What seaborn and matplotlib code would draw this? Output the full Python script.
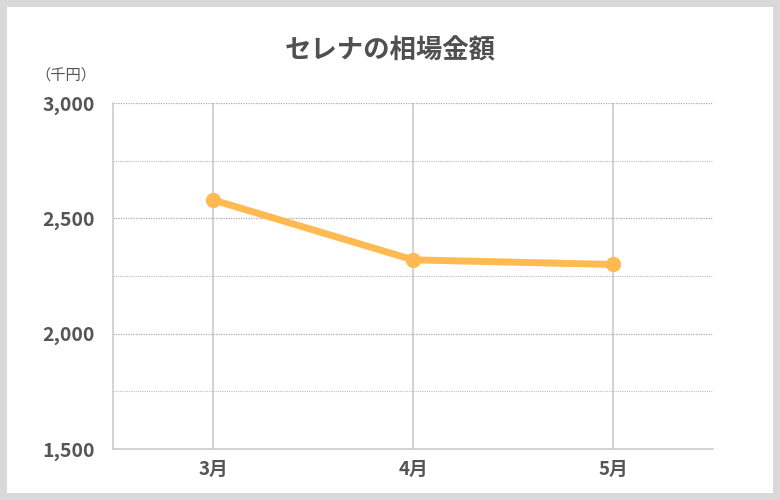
import pandas as pd
import matplotlib.pyplot as plt
import seaborn as sns
from matplotlib.patches import Rectangle
from matplotlib.ticker import MultipleLocator, FuncFormatter

# data
months = ['3月', '4月', '5月']
prices = [2580, 2320, 2300]

df = pd.DataFrame({'month': months, 'price': prices})

sns.set_style('white')
plt.rcParams['font.family'] = ['Noto Sans CJK JP', 'DejaVu Sans']

fig = plt.figure(figsize=(7.8, 5), dpi=100)
fig.patch.set_facecolor('#d9d9d9')
# white card inside the grey frame
fig.patches.append(Rectangle((7 / 780, 7 / 500), 766 / 780, 486 / 500,
                             transform=fig.transFigure, facecolor='white',
                             edgecolor='none', zorder=-5))

ax = fig.add_axes([113 / 780, 1 - 449 / 500, 600 / 780, 346 / 500])
ax.set_zorder(2)
ax.set_facecolor('white')

sns.lineplot(data=df, x='month', y='price', ax=ax, color='#FFBA52',
             linewidth=5, marker='o', markersize=11, markeredgewidth=0,
             zorder=3)

ax.set_xlim(-0.5, 2.5)
ax.set_ylim(1500, 3000)
ax.yaxis.set_major_locator(MultipleLocator(500))
ax.yaxis.set_minor_locator(MultipleLocator(250))
ax.yaxis.set_major_formatter(FuncFormatter(lambda v, p: f'{int(v):,}'))

ax.grid(axis='y', which='major', color='#aaaaaa', linestyle=(0, (1, 1)), linewidth=0.9)
ax.grid(axis='y', which='minor', color='#bbbbbb', linestyle=(0, (1, 1)), linewidth=0.8)
ax.grid(axis='x', which='major', color='#cccccc', linestyle='-', linewidth=1.2)
ax.set_axisbelow(True)

for s in ['top', 'right']:
    ax.spines[s].set_visible(False)
ax.spines['left'].set_color('#cccccc')
ax.spines['left'].set_linewidth(1.2)
ax.spines['bottom'].set_color('#cccccc')
ax.spines['bottom'].set_linewidth(1.2)

ax.tick_params(axis='both', which='both', length=0, colors='#555555')
ax.tick_params(axis='y', pad=13)
ax.tick_params(axis='x', pad=8)
for lab in ax.get_yticklabels():
    lab.set_fontsize(14)
    lab.set_fontweight('bold')
for lab in ax.get_xticklabels():
    lab.set_fontsize(13.5)
    lab.set_fontweight('bold')

ax.set_xlabel('')
ax.set_ylabel('')

fig.text(0.5, 1 - 51 / 500, 'セレナの相場金額', ha='center', va='center',
         fontsize=19, fontweight='bold', color='#505050')
fig.text(66 / 780, 1 - 75 / 500, '（千円）', ha='center', va='center',
         fontsize=11, color='#555555')

fig.savefig('out.png', dpi=100, facecolor=fig.get_facecolor())
